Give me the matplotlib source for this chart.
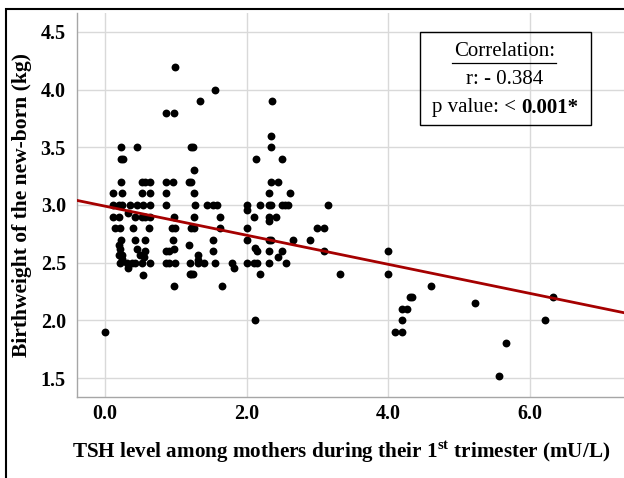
import numpy as np
import matplotlib
matplotlib.use('Agg')
import matplotlib.pyplot as plt
from matplotlib.patches import Rectangle
from matplotlib.lines import Line2D

# ─────────────────────────────────────────────────────────────
# DATA
# ─────────────────────────────────────────────────────────────

# TSH level (mU/L) and birthweight (kg), point by point
TSH = [
    0.00,
    0.11, 0.11, 0.11, 0.14,
    0.23, 0.22, 0.25, 0.22, 0.24, 0.20, 0.24, 0.20, 0.21, 0.22, 0.21, 0.20, 0.24, 0.21, 0.24, 0.20,
    0.31, 0.33, 0.33, 0.35, 0.38, 0.40, 0.42, 0.42, 0.42,
    0.45, 0.45, 0.45,
    0.50, 0.52, 0.52, 0.54, 0.52, 0.52, 0.54, 0.55, 0.56, 0.56, 0.56, 0.56,
    0.64, 0.63, 0.63, 0.63, 0.62, 0.63,
    0.86, 0.97, 0.99, 0.86, 0.96, 0.86, 0.86, 0.98, 0.94, 0.99, 0.96, 0.97, 0.86, 0.90, 0.86, 0.90, 0.99, 0.98,
    1.18, 1.22, 1.26, 1.24, 1.21, 1.26, 1.27, 1.26, 1.22, 1.26, 1.18, 1.20, 1.32, 1.32, 1.20, 1.22, 1.25,
    1.34, 1.32,
    1.40, 1.44, 1.53, 1.58, 1.55, 1.62, 1.62, 1.53, 1.52, 1.55, 1.65,
    1.80, 1.82,
    2.00, 2.00, 2.00, 2.00, 2.00, 2.10, 2.14, 2.10, 2.19, 2.13, 2.12, 2.14, 2.19, 2.12,
    2.31, 2.31, 2.35, 2.31, 2.31, 2.31, 2.35, 2.31, 2.31, 2.35, 2.45, 2.35, 2.35, 2.36,
    2.50, 2.42, 2.50, 2.54, 2.59, 2.62, 2.45, 2.50, 2.56, 2.65,
    2.90, 3.00, 3.10, 3.15, 3.10, 3.32,
    4.00, 4.00, 4.10, 4.20, 4.20, 4.20, 4.27, 4.31, 4.33, 4.60,
    5.23, 5.56, 5.66, 6.21, 6.33,
]
BIRTHWEIGHT = [
    1.90,
    3.10, 3.00, 2.90, 2.80,
    3.50, 3.40, 3.40, 3.20, 3.10, 3.00, 3.00, 2.90, 2.80, 2.70, 2.62, 2.57, 2.57, 2.50, 2.53, 2.65,
    2.50, 2.45, 2.93, 3.00, 2.50, 2.80, 2.90, 2.70, 2.50,
    3.50, 3.00, 2.62,
    2.57, 3.20, 3.10, 3.00, 2.90, 2.50, 2.39, 2.55, 3.20, 2.90, 2.70, 2.60,
    3.20, 3.10, 3.00, 2.90, 2.80, 2.50,
    3.80, 3.80, 4.20, 3.20, 3.20, 3.10, 3.00, 2.90, 2.80, 2.80, 2.70, 2.62, 2.60, 2.60, 2.50, 2.50, 2.50, 2.30,
    3.20, 3.20, 3.30, 3.50, 3.50, 3.10, 3.00, 2.90, 2.80, 2.80, 2.65, 2.50, 2.52, 2.57, 2.40, 2.40, 2.40,
    3.90, 2.50,
    2.50, 3.00, 3.00, 3.00, 4.00, 2.90, 2.80, 2.70, 2.60, 2.50, 2.30,
    2.50, 2.45,
    3.00, 2.96, 2.80, 2.70, 2.50, 2.50, 2.50, 2.90, 3.00, 3.40, 2.63, 2.60, 2.40, 2.00,
    3.10, 3.00, 3.00, 2.90, 2.86, 2.70, 2.70, 2.60, 2.50, 3.20, 3.20, 3.50, 3.60, 3.90,
    3.40, 2.90, 3.00, 3.00, 3.00, 3.10, 2.55, 2.60, 2.50, 2.70,
    2.70, 2.80, 2.80, 3.00, 2.60, 2.40,
    2.60, 2.40, 1.90, 1.90, 2.00, 2.10, 2.10, 2.20, 2.20, 2.30,
    2.15, 1.52, 1.80, 2.00, 2.20,
]

# fitted line, as printed in the figure
REG_INTERCEPT = 2.99
REG_SLOPE = -0.126

X_TICKS = [0.0, 2.0, 4.0, 6.0]
Y_TICKS = [1.5, 2.0, 2.5, 3.0, 3.5, 4.0, 4.5]

R_VALUE = '- 0.384'
P_VALUE = '0.001*'

# ─────────────────────────────────────────────────────────────
# STYLE
# ─────────────────────────────────────────────────────────────

SERIF = 'Liberation Serif'
plt.rcParams['font.family'] = SERIF
plt.rcParams['mathtext.fontset'] = 'custom'
plt.rcParams['mathtext.rm'] = SERIF
plt.rcParams['mathtext.bf'] = SERIF + ':bold'

GRID_COL = '#d9d9d9'
LINE_COL = '#a50000'
BOX_FS = 15

fig = plt.figure(figsize=(6.24, 4.78), dpi=100)
ax = fig.add_axes([77 / 624, (478 - 397) / 478, (624 - 77) / 624, (397 - 13) / 478])

ax.scatter(TSH, BIRTHWEIGHT, s=32, color='black', zorder=3, linewidths=0)

xlim = (-0.395, 7.33)
x_line = np.array(xlim)
ax.plot(x_line, REG_INTERCEPT + REG_SLOPE * x_line, color=LINE_COL, lw=2.0, zorder=4)

ax.set_xlim(*xlim)
ax.set_ylim(1.336, 4.664)
ax.set_xticks(X_TICKS)
ax.set_xticklabels([f'{v:.1f}' for v in X_TICKS])
ax.set_yticks(Y_TICKS)
ax.set_yticklabels([f'{v:.1f}' for v in Y_TICKS])
ax.tick_params(length=0, labelsize=14.5)
ax.tick_params(axis='x', pad=5)
ax.tick_params(axis='y', pad=8)
for lab in ax.get_xticklabels() + ax.get_yticklabels():
    lab.set_fontweight('bold')

ax.grid(True, color=GRID_COL, lw=1.0, zorder=0)
ax.set_axisbelow(True)
for side in ['top', 'right']:
    ax.spines[side].set_visible(False)
for side in ['left', 'bottom']:
    ax.spines[side].set_color('#a6a6a6')
    ax.spines[side].set_linewidth(1.0)

ax.set_xlabel(r'TSH level among mothers during their 1$^{\mathbf{st}}$ trimester (mU/L)',
              fontsize=15.2, fontweight='bold')
ax.xaxis.set_label_coords((341 - 77) / 547, -0.11)
ax.set_ylabel('Birthweight of the new-born (kg)', fontsize=15.5, fontweight='bold', labelpad=6)

# correlation box (transparent, gridlines show through)
box = Rectangle((0.627, 0.708), 0.313, 0.243, transform=ax.transAxes,
                facecolor='none', edgecolor='black', lw=1.0, zorder=5)
ax.add_patch(box)
ax.text(0.782, 0.901, 'Correlation:', transform=ax.transAxes, ha='center', va='center',
        fontsize=BOX_FS, zorder=6)
ax.add_line(Line2D([0.686, 0.876], [0.871, 0.871], transform=ax.transAxes,
                   color='black', lw=0.9, zorder=6))
ax.text(0.782, 0.826, f'r: {R_VALUE}', transform=ax.transAxes, ha='center', va='center',
        fontsize=BOX_FS, zorder=6)

# "p value: < 0.001*" with the number in bold: two texts, centred together
t_pre = ax.text(0, 0.753, 'p value: < ', transform=ax.transAxes, ha='left', va='center',
                fontsize=BOX_FS, zorder=6)
t_val = ax.text(0, 0.753, P_VALUE, transform=ax.transAxes, ha='left', va='center',
                fontsize=BOX_FS, fontweight='bold', zorder=6)
fig.canvas.draw()
rend = fig.canvas.get_renderer()
ax_w = ax.get_window_extent().width
w_pre = t_pre.get_window_extent(rend).width / ax_w
w_val = t_val.get_window_extent(rend).width / ax_w
x0 = 0.782 - (w_pre + w_val) / 2
t_pre.set_x(x0)
t_val.set_x(x0 + w_pre)

# outer frame of the picture
fig.add_artist(Rectangle((6 / 624, -0.05), 1.1, (478 - 9) / 478 + 0.05,
                         transform=fig.transFigure, facecolor='none',
                         edgecolor='black', lw=1.5))

fig.savefig('out.png', dpi=100)
